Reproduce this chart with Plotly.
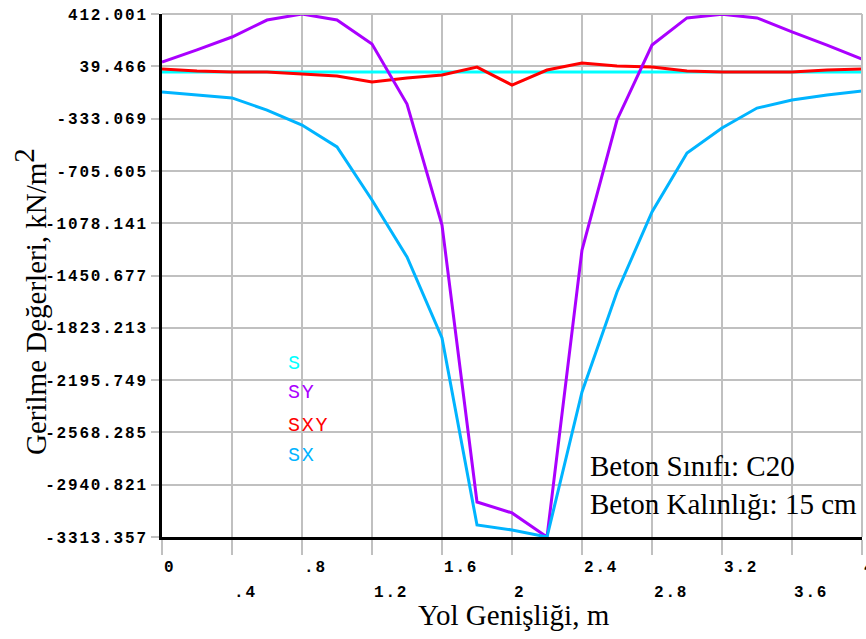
import plotly.graph_objects as go

# ---- data -------------------------------------------------------------
x_vals = [0, 0.2, 0.4, 0.6, 0.8, 1.0, 1.2, 1.4, 1.6, 1.8, 2.0,
          2.2, 2.4, 2.6, 2.8, 3.0, 3.2, 3.4, 3.6, 3.8, 4.0]

s_vals = [-2, -2, -2, -2, -2, -2, -2, -2, -2, -2, -2,
          -2, -2, -2, -2, -2, -2, -2, -2, -2, -2]

sy_vals = [70, 156, 248, 369, 412.001, 369, 198, -229, -1091, -3064, -3142,
           -3313.357, -1269, -343, 191, 384, 410, 384, 284, 191, 91]

sxy_vals = [20, 6, -1, -1, -15, -29, -72, -44, -22, 34, -94,
            13, 63, 42, 34, 6, -1, -1, -1, 13, 20]

sx_vals = [-144, -165, -186, -272, -379, -535, -913, -1319, -1896, -3228, -3263,
           -3313.357, -2280, -1568, -998, -578, -400, -258, -201, -165, -136]

series_names = ["S", "SY", "SXY", "SX"]
series_colors = ["#00ffff", "#aa00ff", "#ff0000", "#00b4ff"]

y_tick_vals = [412.001, 39.466, -333.069, -705.605, -1078.141, -1450.677,
               -1823.213, -2195.749, -2568.285, -2940.821, -3313.357]
y_tick_text = ["412.001", "39.466", "-333.069", "-705.605", "-1078.141", "-1450.677",
               "-1823.213", "-2195.749", "-2568.285", "-2940.821", "-3313.357"]

x_tick_vals = [0, 0.4, 0.8, 1.2, 1.6, 2.0, 2.4, 2.8, 3.2, 3.6, 4.0]
x_tick_text = ["0", ".4", ".8", "1.2", "1.6", "2", "2.4", "2.8", "3.2", "3.6", "4"]

x_title = "Yol Genişliği, m"
y_title = "Gerilme Değerleri, kN/m"
info_lines = ["Beton Sınıfı: C20", "Beton Kalınlığı: 15 cm"]

# ---- geometry helpers (pixel layout of the 866x639 canvas) ------------
L, R, T, B = 162, 4, 14, 102
W, H = 866, 639
PW, PH = W - L - R, H - T - B
Y0, Y1 = -3313.357, 412.001


def px_x(px):
    return (px - L) / PW


def px_y(py):
    return (T + PH - py) / PH


MONO = "Liberation Mono"
SERIF = "Liberation Serif"
GRID = "#c0c0c0"


def spaced(t, sp):
    return f'<span style="letter-spacing:{sp}px">{t}</span>'


fig = go.Figure()

series = {"S": s_vals, "SY": sy_vals, "SXY": sxy_vals, "SX": sx_vals}
draw_order = ["S", "SXY", "SY", "SX"]
for name in draw_order:
    c = series_colors[series_names.index(name)]
    fig.add_trace(go.Scatter(x=x_vals, y=series[name], mode="lines", name=name,
                             line=dict(color=c, width=3)))

# white boxes behind the text (cover grid only)
shapes = [
    dict(type="rect", xref="paper", yref="paper", layer="between",
         x0=px_x(283), x1=px_x(331), y0=px_y(468), y1=px_y(345),
         fillcolor="white", line=dict(width=0)),
    dict(type="rect", xref="paper", yref="paper", layer="between",
         x0=px_x(583), x1=px_x(862), y0=px_y(523), y1=px_y(443),
         fillcolor="white", line=dict(width=0)),
    # top and right frame lines (grey)
    dict(type="line", xref="paper", yref="paper", x0=0, x1=1, y0=1, y1=1,
         line=dict(color=GRID, width=2)),
    dict(type="line", xref="paper", yref="paper", x0=1, x1=1, y0=0, y1=1,
         line=dict(color=GRID, width=2)),
]

annotations = []
# legend text
leg_y = [363, 392, 425, 455]
for name, c, py in zip(series_names, series_colors, leg_y):
    annotations.append(dict(xref="paper", yref="paper", x=px_x(286), y=px_y(py),
                            xanchor="left", yanchor="middle", showarrow=False,
                            text=spaced(name, 1.7), font=dict(family=MONO, size=20, color=c)))

# x tick labels (two staggered rows, left-aligned at the tick)
for i, (xv, tt) in enumerate(zip(x_tick_vals, x_tick_text)):
    annotations.append(dict(xref="x", yref="paper", x=xv, y=0,
                            xanchor="left", yanchor="middle", showarrow=False,
                            yshift=-31 if i % 2 == 0 else -56,
                            text=spaced(tt, 1.8),
                            font=dict(family=MONO, size=16, color="black", weight="bold")))

# axis titles
annotations.append(dict(xref="paper", yref="paper", x=px_x(514), y=0, yshift=-(615 - 537),
                        xanchor="center", yanchor="middle", showarrow=False,
                        text=x_title, font=dict(family=SERIF, size=29, color="black")))
annotations.append(dict(xref="paper", yref="paper", x=px_x(30), y=px_y(302),
                        xanchor="center", yanchor="middle", showarrow=False, textangle=-90,
                        text=y_title + '<sup><span style="font-size:29px">2</span></sup>',
                        font=dict(family=SERIF, size=29, color="black")))

# info box
annotations.append(dict(xref="paper", yref="paper", x=px_x(588), y=px_y(485),
                        xanchor="left", yanchor="middle", showarrow=False, align="left",
                        text="<br>".join(info_lines),
                        font=dict(family=SERIF, size=29, color="black")))

fig.update_layout(
    width=W, height=H,
    margin=dict(l=L, r=R, t=T, b=B, pad=0),
    paper_bgcolor="white", plot_bgcolor="white",
    showlegend=False,
    shapes=shapes, annotations=annotations,
)

fig.update_xaxes(range=[0, 4], tickvals=x_tick_vals, showticklabels=False,
                 ticks="outside", ticklen=15, tickwidth=2, tickcolor=GRID,
                 showgrid=True, gridcolor=GRID, gridwidth=2,
                 showline=True, linecolor="black", linewidth=3, zeroline=False)

fig.update_yaxes(range=[Y0, Y1], tickvals=y_tick_vals,
                 ticktext=[spaced(t, 1.8) for t in y_tick_text],
                 tickfont=dict(family=MONO, size=16, color="black", weight="bold"),
                 ticks="outside", ticklen=8, tickwidth=2, tickcolor=GRID,
                 showgrid=True, gridcolor=GRID, gridwidth=2,
                 showline=True, linecolor="black", linewidth=3, zeroline=False)

fig.write_html("out.html")
